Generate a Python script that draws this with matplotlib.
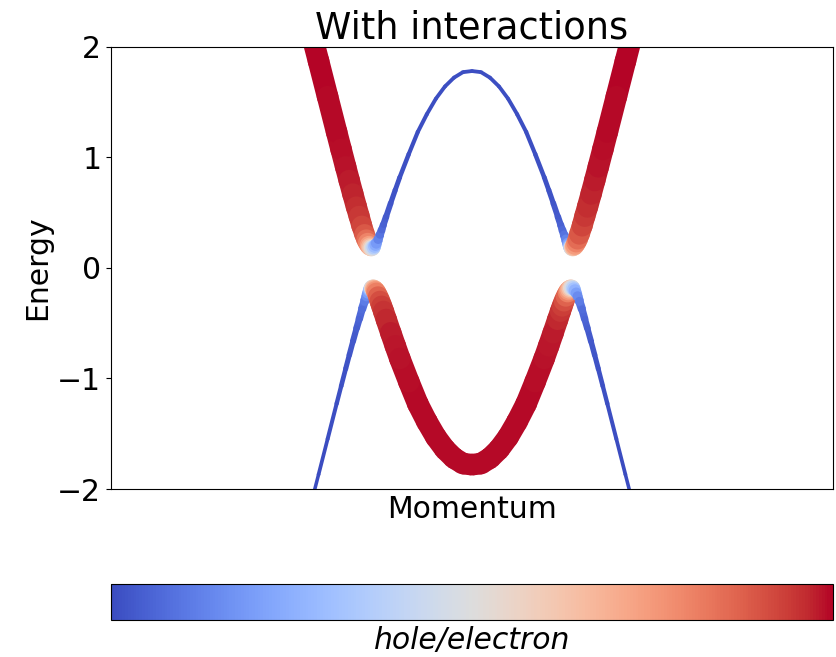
import numpy as np
import matplotlib
matplotlib.use("Agg")
import matplotlib.pyplot as plt
from matplotlib.collections import LineCollection
from matplotlib.colors import Normalize
from matplotlib.cm import ScalarMappable

# ---- data ----
momentum = [-1.90, -1.80, -1.70, -1.60, -1.50, -1.45, -1.40, -1.36, -1.32, -1.28,
            -1.25, -1.22, -1.19, -1.17, -1.155, -1.14, -1.13, -1.12, -1.11, -1.10,
            -1.09, -1.08, -1.07, -1.06, -1.04, -1.02, -1.00, -0.98, -0.95, -0.90,
            -0.85, -0.80, -0.70, -0.60, -0.50, -0.40, -0.30, -0.20, -0.10, 0.00,
            0.10, 0.20, 0.30, 0.40, 0.50, 0.60, 0.70, 0.80, 0.85, 0.90,
            0.95, 0.98, 1.00, 1.02, 1.04, 1.06, 1.07, 1.08, 1.09, 1.10,
            1.11, 1.12, 1.13, 1.14, 1.155, 1.17, 1.19, 1.22, 1.25, 1.28,
            1.32, 1.36, 1.40, 1.45, 1.50, 1.60, 1.70, 1.80, 1.90]

energy_upper = [2.498, 2.186, 1.869, 1.549, 1.229, 1.071, 0.914, 0.790, 0.668, 0.550,
                0.466, 0.378, 0.303, 0.257, 0.228, 0.204, 0.192, 0.184, 0.180, 0.181,
                0.186, 0.195, 0.207, 0.223, 0.259, 0.301, 0.346, 0.393, 0.466, 0.587,
                0.705, 0.82, 1.03, 1.23, 1.39, 1.53, 1.64, 1.72, 1.77, 1.78,
                1.77, 1.72, 1.64, 1.53, 1.39, 1.23, 1.03, 0.82, 0.705, 0.587,
                0.466, 0.393, 0.346, 0.301, 0.259, 0.223, 0.207, 0.195, 0.186, 0.181,
                0.180, 0.184, 0.192, 0.204, 0.228, 0.257, 0.303, 0.378, 0.466, 0.550,
                0.668, 0.790, 0.914, 1.071, 1.229, 1.549, 1.869, 2.186, 2.498]

energy_lower = [-2.498, -2.186, -1.869, -1.549, -1.229, -1.071, -0.914, -0.790, -0.668, -0.550,
                -0.466, -0.378, -0.303, -0.257, -0.228, -0.204, -0.192, -0.184, -0.180, -0.181,
                -0.186, -0.195, -0.207, -0.223, -0.259, -0.301, -0.346, -0.393, -0.466, -0.587,
                -0.705, -0.82, -1.03, -1.23, -1.39, -1.53, -1.64, -1.72, -1.77, -1.78,
                -1.77, -1.72, -1.64, -1.53, -1.39, -1.23, -1.03, -0.82, -0.705, -0.587,
                -0.466, -0.393, -0.346, -0.301, -0.259, -0.223, -0.207, -0.195, -0.186, -0.181,
                -0.180, -0.184, -0.192, -0.204, -0.228, -0.257, -0.303, -0.378, -0.466, -0.550,
                -0.668, -0.790, -0.914, -1.071, -1.229, -1.549, -1.869, -2.186, -2.498]

# electron weight (0 = hole, 1 = electron)
weight_upper = [0.999, 0.998, 0.997, 0.996, 0.993, 0.99, 0.985, 0.98, 0.972, 0.96,
                0.945, 0.925, 0.89, 0.85, 0.80, 0.74, 0.68, 0.61, 0.53, 0.45,
                0.37, 0.30, 0.24, 0.19, 0.13, 0.09, 0.065, 0.05, 0.035, 0.022,
                0.016, 0.012, 0.008, 0.006, 0.005, 0.004, 0.004, 0.004, 0.004, 0.004,
                0.004, 0.004, 0.004, 0.004, 0.005, 0.006, 0.008, 0.012, 0.016, 0.022,
                0.035, 0.05, 0.065, 0.09, 0.13, 0.19, 0.24, 0.30, 0.37, 0.45,
                0.53, 0.61, 0.68, 0.74, 0.80, 0.85, 0.89, 0.925, 0.945, 0.96,
                0.972, 0.98, 0.985, 0.99, 0.993, 0.996, 0.997, 0.998, 0.999]

weight_lower = [0.001, 0.002, 0.003, 0.004, 0.007, 0.01, 0.015, 0.02, 0.028, 0.04,
                0.055, 0.075, 0.11, 0.15, 0.20, 0.26, 0.32, 0.39, 0.47, 0.55,
                0.63, 0.70, 0.76, 0.81, 0.87, 0.91, 0.935, 0.95, 0.965, 0.978,
                0.984, 0.988, 0.992, 0.994, 0.995, 0.996, 0.996, 0.996, 0.996, 0.996,
                0.996, 0.996, 0.996, 0.996, 0.995, 0.994, 0.992, 0.988, 0.984, 0.978,
                0.965, 0.95, 0.935, 0.91, 0.87, 0.81, 0.76, 0.70, 0.63, 0.55,
                0.47, 0.39, 0.32, 0.26, 0.20, 0.15, 0.11, 0.075, 0.055, 0.04,
                0.028, 0.02, 0.015, 0.01, 0.007, 0.004, 0.003, 0.002, 0.001]

energy_ticks = [-2, -1, 0, 1, 2]
title_text = "With interactions"
x_label = "Momentum"
y_label = "Energy"
cbar_label = "hole/electron"

# ---- figure ----
plt.rcParams["font.size"] = 21.5
fig = plt.figure(figsize=(8.37, 6.57), dpi=100)
ax = fig.add_axes([0.1326, 0.2557, 0.8626, 0.6732])
cmap = plt.get_cmap("coolwarm")
norm = Normalize(0, 1)

MAX_DIAM_PX = 19.0
MIN_DIAM_PX = 2.6


def diam_pt(w):
    return (MAX_DIAM_PX * np.sqrt(w) + MIN_DIAM_PX) * 72.0 / fig.dpi


def draw_band(k, e, w):
    k = np.asarray(k, float)
    e = np.asarray(e, float)
    w = np.asarray(w, float)
    pts = np.column_stack([k, e])
    segs = np.stack([pts[:-1], pts[1:]], axis=1)
    wm = 0.5 * (w[:-1] + w[1:])
    lw = 0.5 * (diam_pt(w[:-1]) + diam_pt(w[1:]))
    lc = LineCollection(segs, colors=cmap(norm(wm)), linewidths=lw,
                        capstyle="butt", zorder=2.1)
    ax.add_collection(lc)
    # round markers at each point, drawn in momentum order on top
    ax.scatter(k, e, s=diam_pt(w) ** 2, c=w, cmap=cmap, norm=norm,
               linewidths=0, zorder=2.2)


draw_band(momentum, energy_upper, weight_upper)
draw_band(momentum, energy_lower, weight_lower)

ax.set_xlim(-4, 4)
ax.set_ylim(-2, 2)
ax.set_xticks([])
ax.set_yticks(energy_ticks)
ax.set_xlabel(x_label)
ax.set_ylabel(y_label)
ax.set_title(title_text, fontsize=26.5)

cax = fig.add_axes([0.1326, 0.0563, 0.8626, 0.0548])
cb = fig.colorbar(ScalarMappable(norm=norm, cmap=cmap), cax=cax,
                  orientation="horizontal")
cb.set_ticks([])
cb.set_label(cbar_label, style="italic")

fig.savefig("out.png", dpi=100)
